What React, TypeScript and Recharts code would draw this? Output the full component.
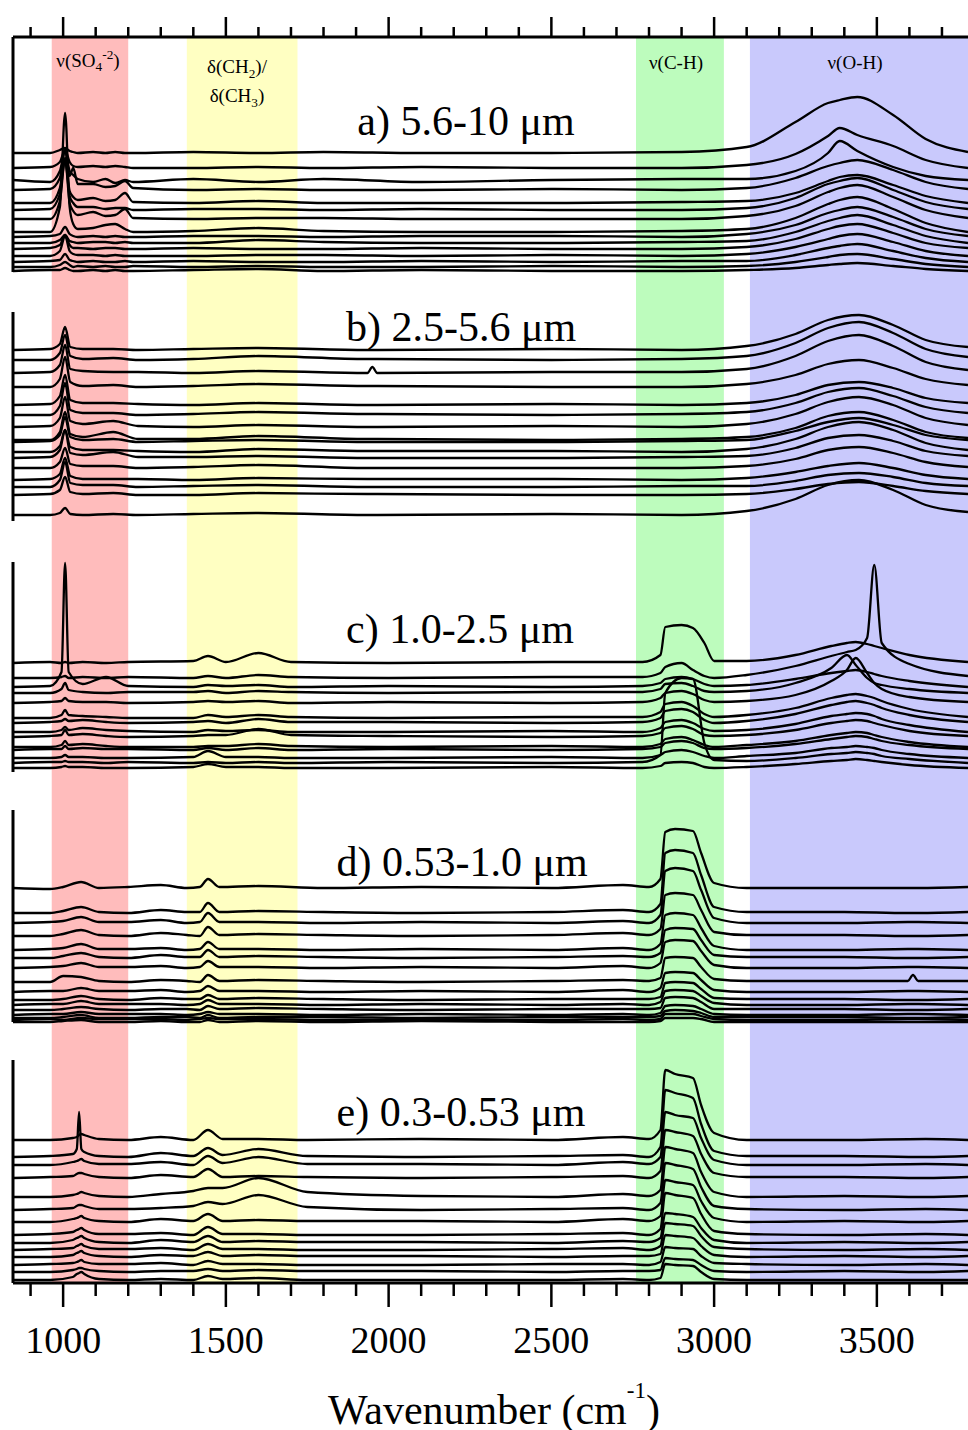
import React from 'react';
import { ComposedChart, Line, XAxis, YAxis, ReferenceArea, ReferenceLine } from 'recharts';

// wavenumber ticks (cm-1), labels on the 500s
const TICKS = [900, 1000, 1100, 1200, 1300, 1400, 1500, 1600, 1700, 1800, 1900, 2000, 2100, 2200, 2300, 2400, 2500, 2600, 2700, 2800, 2900, 3000, 3100, 3200, 3300, 3400, 3500, 3600, 3700];

// shaded assignment bands
const BAND_X1 = [965, 1380, 2760, 3110];
const BAND_X2 = [1200, 1720, 3030, 3780];

// ---- a) 5.6-10 um ----
const A_WN = [846, 960, 990, 1006, 1020, 1031, 1045, 1092, 1130, 1160, 1190, 1215, 1400, 1600, 1800, 2100, 2500, 2900, 3100, 3250, 3350, 3386, 3440, 3550, 3650, 3780];
const A_OFFSET = [1130, 1115, 1102, 1093, 1080, 1073, 1064, 1051, 1046, 1040, 1034, 1027, 1021, 1016, 1012];
const A_LINES = [
  [0, 0, 3, 5, 2, 1, 0, 1, 0, 1, 0, 0, 1, 0, 1, 0, 0, 1, 6, 31, 50, 53, 56, 38, 14, 1],
  [0, 1, 6, 18, 6, 2, 1, 2, 1, 2, 1, 0, 0, 1, 0, 1, 0, 0, 3, 14, 32, 40, 33, 22, 8, 0],
  [1, -1, 10, 30, 10, 6, 2, -1, 2, -2, 1, -1, 2, -1, 2, -1, 1, 2, 2, 10, 28, 40, 30, 14, 5, 1],
  [0, 1, 12, 40, 14, 22, 6, 6, 3, 4, 9, 2, 0, 1, 0, 0, 1, 0, 2, 12, 24, 27, 30, 20, 8, 1],
  [0, 0, 15, 45, 12, 6, 3, 5, 2, 3, 10, 1, 0, 2, 0, 0, 0, 1, 2, 10, 22, 26, 28, 18, 7, 0],
  [0, 1, 16, 50, 14, 7, 3, 3, 1, 2, 2, 0, 1, 1, 0, 1, 0, 0, 2, 12, 26, 29, 32, 20, 8, 1],
  [0, 0, 18, 60, 16, 8, 4, 7, 3, 4, 10, 1, 0, 1, 1, 0, 0, 0, 3, 13, 27, 31, 34, 22, 9, 1],
  [0, 0, 25, 119, 25, 8, 3, 4, 7, 8, 3, 0, 1, 4, 1, 0, 0, 1, 3, 14, 28, 32, 35, 23, 9, 0],
  [0, 1, 3, 10, 3, 1, 0, 1, 0, 1, 0, 0, 1, 1, 0, 1, 1, 0, 3, 12, 24, 27, 30, 20, 8, 1],
  [0, 0, 3, 8, 2, 1, 0, 1, 1, 0, 1, 0, 0, 3, 1, 0, 0, 1, 2, 11, 22, 25, 28, 18, 7, 0],
  [0, 1, 4, 14, 4, 1, 1, 0, 1, 1, 0, 0, 1, 0, 0, 1, 0, 0, 2, 10, 20, 23, 25, 16, 6, 1],
  [0, 0, 5, 20, 5, 2, 1, 1, 0, 1, 0, 0, 0, 1, 1, 0, 1, 0, 2, 9, 17, 20, 22, 14, 5, 0],
  [0, 1, 2, 8, 2, 1, 0, 1, 0, 0, 1, 0, 1, 0, 0, 1, 0, 1, 1, 7, 14, 16, 18, 11, 4, 0],
  [0, 0, 2, 5, 2, 0, 1, 0, 1, 0, 0, 1, 0, 1, 0, 0, 1, 0, 1, 5, 10, 12, 13, 8, 3, 0],
  [0, 1, 1, 3, 1, 0, 0, 1, 0, 1, 0, 0, 1, 2, 0, 1, 0, 0, 1, 3, 6, 7, 8, 5, 2, 0],
];

// ---- b) 2.5-5.6 um ----
const B_WN = [846, 960, 990, 1006, 1022, 1060, 1154, 1230, 1400, 1600, 1935, 1950, 1965, 2500, 2900, 3100, 3250, 3350, 3445, 3550, 3650, 3780];
const B_OFFSET = [933, 923, 910, 896, 878, 868, 856, 843, 841, 831, 825, 815, 803, 796, 788, 768];
const B_LINES = [
  [0, 1, 6, 23, 3, 1, 1, 0, 1, 2, 0, 0, 0, 1, 0, 4, 16, 30, 35, 25, 10, 3],
  [0, 0, 7, 25, 4, 1, 2, 0, 1, 4, 1, 1, 1, 0, 1, 4, 17, 32, 38, 27, 11, 3],
  [0, 1, 8, 28, 4, 2, 1, 1, 0, 2, 0, 6, 0, 1, 1, 4, 17, 32, 38, 27, 11, 3],
  [0, 0, 8, 30, 5, 1, 2, 0, 1, 3, 1, 1, 1, 0, 0, 3, 12, 23, 27, 19, 8, 2],
  [0, 1, 9, 30, 5, 2, 2, 1, 0, 2, 0, 0, 0, 1, 0, 2, 10, 20, 23, 17, 7, 2],
  [0, 0, 9, 32, 5, 2, 2, 0, 1, 3, 1, 1, 1, 0, 1, 3, 12, 23, 27, 19, 8, 2],
  [0, 1, 9, 30, 6, 3, 6, 1, 0, 2, 0, 0, 0, 1, 0, 3, 13, 25, 30, 22, 9, 2],
  [0, 0, 8, 28, 6, 3, 8, 1, 1, 4, 1, 1, 1, 0, 1, 3, 12, 24, 28, 20, 8, 2],
  [0, 1, 7, 25, 5, 2, 3, 0, 1, 2, 0, 0, 0, 0, 1, 2, 11, 20, 24, 17, 7, 2],
  [0, 0, 6, 22, 5, 2, 2, 1, 0, 3, 1, 1, 1, 1, 0, 3, 13, 25, 30, 22, 9, 2],
  [0, 1, 8, 28, 5, 3, 6, 1, 1, 2, 0, 0, 0, 0, 1, 2, 10, 20, 23, 17, 7, 2],
  [0, 0, 6, 20, 4, 2, 2, 0, 1, 3, 0, 0, 0, 0, 0, 2, 9, 18, 21, 15, 6, 1],
  [0, 1, 6, 22, 4, 1, 1, 1, 0, 2, 1, 1, 1, 1, 0, 2, 8, 14, 17, 12, 5, 1],
  [0, 0, 7, 25, 4, 2, 2, 0, 1, 2, 0, 0, 0, 0, 1, 1, 6, 12, 14, 10, 4, 1],
  [0, 1, 5, 18, 3, 1, 2, 0, 0, 2, 1, 1, 1, 0, 0, 1, 6, 11, 13, 9, 4, 1],
  [0, 0, 2, 7, 1, 0, 1, 0, 1, 2, 0, 0, 0, 1, 0, 4, 16, 30, 35, 25, 10, 3],
];

// ---- c) 1.0-2.5 um ----
const C_WN = [846, 960, 995, 1006, 1017, 1060, 1132, 1200, 1400, 1445, 1500, 1600, 1700, 2000, 2500, 2780, 2835, 2850, 2900, 2935, 2970, 3000, 3100, 3250, 3360, 3408, 3435, 3470, 3492, 3515, 3600, 3780];
const C_OFFSET = [620, 605, 596, 590, 580, 565, 560, 551, 546, 536, 533, 525, 520, 515];
const C_LINES = [
  [0, 1, 0, 1, 0, 1, 0, 1, 2, 7, 1, 10, 1, 0, 1, 1, 8, 36, 38, 35, 20, 2, 2, 8, 17, 20, 21, 19, 17, 15, 8, 1],
  [0, 0, 1, 2, 0, 1, 0, 1, 0, 2, 0, 3, 1, 0, 1, 1, 5, 11, 15, 8, 2, 0, 3, 12, 22, 26, 28, 40, 113, 35, 14, 2],
  [0, 1, 15, 124, 15, 3, 10, 1, 0, 2, 1, 2, 0, 1, 0, 1, 4, 8, 10, 8, 3, 1, 2, 8, 14, 16, 17, 15, 13, 11, 6, 0],
  [0, 0, 4, 10, 3, 1, 0, 1, 1, 2, 0, 2, 1, 0, 1, 1, 4, 9, 10, 7, 2, 1, 2, 10, 25, 38, 28, 15, 10, 8, 4, 0],
  [0, 1, 2, 5, 2, 1, 1, 0, 1, 2, 1, 2, 0, 1, 0, 1, 5, 10, 12, 9, 3, 1, 2, 8, 22, 33, 45, 30, 20, 14, 6, 1],
  [0, 0, 3, 8, 3, 2, 1, 0, 0, 3, 1, 3, 1, 0, 1, 1, 6, 14, 16, 12, 4, 1, 3, 10, 20, 23, 24, 22, 20, 17, 9, 1],
  [0, 1, 2, 4, 2, 3, 1, 0, 1, 2, 0, 4, 1, 1, 0, 1, 5, 12, 14, 11, 3, 0, 2, 9, 18, 21, 22, 20, 18, 15, 8, 1],
  [0, 0, 2, 5, 2, 4, 2, 1, 0, 2, 1, 2, 0, 0, 1, 0, 4, 10, 12, 9, 3, 1, 2, 8, 16, 18, 19, 18, 16, 13, 7, 0],
  [0, 1, 2, 7, 2, 3, 1, 0, 1, 2, 2, 8, 2, 1, 0, 1, 4, 9, 11, 8, 2, 1, 2, 7, 14, 16, 17, 16, 14, 12, 6, 1],
  [0, 0, 2, 6, 2, 3, 1, 0, 0, 1, 1, 3, 1, 0, 1, 0, 3, 8, 10, 7, 2, 0, 2, 6, 12, 14, 15, 14, 12, 10, 5, 0],
  [0, 1, 1, 4, 1, 2, 1, 1, 0, 2, 0, 2, 0, 1, 0, 1, 3, 7, 9, 7, 2, 1, 2, 6, 11, 13, 14, 13, 11, 9, 5, 1],
  [0, 0, 1, 3, 1, 1, 0, 0, 1, 7, 1, 1, 0, 0, 1, 0, 3, 6, 8, 6, 2, 0, 2, 5, 10, 11, 12, 11, 10, 8, 4, 0],
  [0, 1, 1, 2, 1, 1, 0, 1, 0, 1, 0, 1, 0, 1, 0, 1, 8, 70, 85, 84, 20, 3, 2, 5, 9, 10, 11, 10, 9, 7, 4, 0],
  [0, 0, 1, 2, 1, 1, 0, 0, 1, 4, 1, 1, 0, 0, 1, 0, 2, 5, 6, 5, 1, 0, 1, 4, 7, 8, 9, 8, 7, 6, 3, 0],
];

// ---- d) 0.53-1.0 um ----
const D_WN = [846, 960, 1000, 1055, 1110, 1200, 1300, 1380, 1420, 1445, 1480, 1600, 1800, 2100, 2500, 2720, 2800, 2835, 2850, 2880, 2935, 2960, 3000, 3100, 3400, 3595, 3611, 3627, 3780];
const D_OFFSET = [395, 370, 360, 347, 333, 325, 315, 301, 291, 283, 278, 273, 268, 265, 263, 261];
const D_LINES = [
  [0, -1, 1, 6, 0, 1, 3, 0, 1, 9, 1, 2, 0, 1, 0, 3, 1, 9, 56, 59, 57, 35, 5, 0, 0, 0, 0, 0, 1],
  [0, 0, 2, 6, 1, 0, 3, 1, 1, 10, 1, 2, 1, 0, 1, 3, 1, 9, 60, 63, 60, 38, 6, 1, 1, 0, 0, 0, 1],
  [0, 1, 2, 6, 1, 1, 3, 0, 1, 10, 1, 1, 0, 1, 0, 2, 0, 8, 52, 55, 52, 33, 5, 0, 0, 1, 1, 1, 0],
  [0, 0, 2, 6, 1, 0, 3, 1, 0, 9, 1, 2, 1, 0, 1, 3, 1, 7, 41, 43, 41, 26, 4, 1, 1, 0, 0, 0, 1],
  [0, 1, 2, 6, 1, 1, 2, 0, 1, 8, 1, 1, 0, 1, 0, 2, 0, 6, 35, 37, 35, 22, 4, 0, 0, 1, 1, 1, 0],
  [0, 0, 2, 5, 1, 0, 3, 1, 1, 8, 1, 2, 1, 0, 1, 2, 1, 5, 28, 30, 29, 18, 3, 1, 1, 0, 0, 0, 1],
  [0, 1, 2, 5, 1, 1, 2, 0, 1, 7, 1, 1, 0, 1, 0, 2, 0, 5, 26, 28, 27, 17, 3, 0, 0, 1, 1, 1, 0],
  [0, 0, 6, 5, 1, 0, 2, 1, 0, 7, 1, 2, 1, 0, 1, 2, 1, 4, 24, 25, 24, 15, 3, 1, 1, 1, 7, 1, 1],
  [0, 1, 1, 4, 1, 1, 2, 0, 1, 6, 1, 1, 0, 1, 0, 2, 0, 4, 19, 20, 19, 12, 2, 0, 0, 1, 1, 1, 0],
  [0, 0, 1, 4, 1, 0, 2, 1, 1, 5, 1, 2, 1, 0, 1, 1, 1, 3, 17, 18, 17, 11, 2, 1, 1, 0, 0, 0, 1],
  [0, 1, 1, 4, 1, 1, 1, 0, 1, 5, 1, 1, 0, 1, 0, 1, 0, 3, 14, 15, 14, 9, 2, 0, 0, 1, 1, 1, 0],
  [0, 0, 1, 3, 1, 0, 1, 1, 0, 4, 1, 2, 1, 0, 1, 1, 1, 2, 12, 13, 12, 8, 1, 1, 1, 0, 0, 0, 1],
  [0, 1, 1, 3, 1, 1, 1, 0, 1, 3, 1, 1, 0, 1, 0, 1, 0, 2, 9, 10, 9, 6, 1, 0, 0, 1, 1, 1, 0],
  [0, 0, 1, 3, 0, 0, 1, 1, 0, 3, 0, 1, 1, 0, 1, 1, 1, 2, 7, 8, 7, 5, 1, 1, 1, 0, 0, 0, 1],
  [0, 1, 0, 2, 1, 1, 1, 0, 1, 2, 1, 1, 0, 0, 0, 1, 0, 1, 6, 6, 6, 4, 1, 0, 0, 1, 1, 1, 0],
  [0, 0, 1, 2, 0, 0, 1, 0, 0, 2, 0, 1, 0, 1, 0, 0, 0, 1, 4, 4, 4, 3, 0, 0, 0, 0, 0, 0, 0],
];

// ---- e) 0.3-0.53 um ----
const E_WN = [846, 960, 1030, 1042, 1049, 1056, 1065, 1110, 1200, 1300, 1400, 1445, 1490, 1600, 1750, 2100, 2500, 2720, 2800, 2835, 2850, 2880, 2935, 2960, 3000, 3100, 3400, 3650, 3780];
const E_OFFSET = [143, 126, 118, 105, 86, 73, 61, 48, 40, 33, 26, 18, 11, 3];
const E_LINES = [
  [0, 0, 2, 3, 5, 6, 5, 1, 0, 3, 0, 10, 1, 1, 0, 1, 0, 3, 1, 10, 70, 66, 62, 35, 7, 0, 0, 1, 0],
  [0, 1, 3, 8, 45, 8, 5, 1, 0, 4, 1, 9, 2, 8, 1, 0, 1, 2, 0, 10, 67, 64, 59, 33, 6, 1, 1, 0, 1],
  [0, 0, 3, 4, 5, 6, 4, 1, 1, 3, 0, 9, 2, 8, 1, 1, 0, 3, 1, 8, 53, 50, 47, 27, 5, 0, 0, 1, 0],
  [0, 1, 2, 4, 5, 5, 4, 1, 0, 3, 1, 9, 1, 2, 1, 0, 1, 2, 0, 7, 48, 46, 42, 24, 5, 1, 1, 0, 1],
  [0, 0, 2, 3, 4, 5, 4, 1, 0, 3, 6, 9, 9, 19, 5, 1, 0, 3, 1, 7, 50, 48, 44, 25, 5, 0, 1, 0, 1],
  [0, 1, 2, 4, 5, 5, 4, 1, 1, 2, 4, 8, 6, 15, 3, 0, 1, 2, 0, 7, 47, 45, 41, 23, 4, 1, 0, 1, 0],
  [0, 0, 3, 4, 5, 6, 4, 1, 0, 3, 1, 8, 1, 2, 1, 1, 0, 3, 1, 6, 42, 40, 37, 21, 4, 0, 1, 0, 1],
  [0, 1, 3, 5, 6, 7, 5, 1, 1, 2, 0, 8, 1, 1, 0, 0, 1, 2, 0, 6, 42, 40, 37, 21, 4, 1, 0, 1, 0],
  [0, 0, 3, 5, 6, 7, 5, 1, 0, 3, 1, 7, 1, 2, 1, 1, 0, 2, 1, 5, 30, 29, 26, 15, 3, 0, 1, 0, 1],
  [0, 1, 2, 4, 5, 6, 4, 1, 1, 2, 0, 6, 1, 1, 0, 0, 1, 2, 0, 4, 27, 26, 24, 14, 3, 1, 0, 1, 0],
  [0, 0, 2, 4, 5, 6, 4, 1, 0, 2, 1, 5, 1, 2, 1, 1, 0, 1, 1, 3, 22, 21, 19, 11, 2, 0, 1, 0, 1],
  [0, 1, 2, 3, 4, 5, 3, 1, 1, 2, 0, 4, 1, 1, 0, 0, 1, 1, 0, 3, 18, 17, 16, 9, 2, 1, 0, 1, 0],
  [0, 0, 2, 3, 4, 4, 3, 1, 0, 1, 1, 3, 1, 2, 1, 1, 0, 1, 1, 2, 14, 13, 12, 7, 1, 0, 1, 0, 1],
  [0, 0, 3, 6, 7, 8, 6, 1, 0, 1, 0, 4, 1, 2, 0, 0, 0, 1, 0, 2, 16, 15, 14, 8, 1, 0, 0, 0, 0],
];

const PANELS = [
  { wn: A_WN, offset: A_OFFSET, lines: A_LINES },
  { wn: B_WN, offset: B_OFFSET, lines: B_LINES },
  { wn: C_WN, offset: C_OFFSET, lines: C_LINES },
  { wn: D_WN, offset: D_OFFSET, lines: D_LINES },
  { wn: E_WN, offset: E_OFFSET, lines: E_LINES },
];

const X_DOMAIN: [number, number] = [846, 3780];
const BAND_FILLS = ['#ffbcbc', '#ffffc2', '#bdfcbd', '#c9c9fc'];
// vertical extent (in y units) of each panel's left frame line
const FRAMES = [[1011, 1246], [762, 971], [511, 721], [261, 473], [0, 223]];

const SERIF = '"Liberation Serif", "Times New Roman", serif';

const BottomTick = (props: any) => {
  const { x, y, payload } = props;
  const major = payload.value % 500 === 0;
  return (
    <g>
      <line x1={x} x2={x} y1={y} y2={y + (major ? 24 : 13)} stroke="#000" strokeWidth={2.5} />
      {major && (
        <text x={x} y={y + 70} textAnchor="middle" fontFamily={SERIF} fontSize={38} fill="#000">
          {payload.value}
        </text>
      )}
    </g>
  );
};

const TopTick = (props: any) => {
  const { x, y, payload } = props;
  const major = payload.value % 500 === 0;
  return <line x1={x} x2={x} y1={y} y2={y - (major ? 20 : 10)} stroke="#000" strokeWidth={2.5} />;
};

const txt = (left: number, top: number, size: number): React.CSSProperties => ({
  position: 'absolute',
  left,
  top,
  transform: 'translate(-50%, -50%)',
  fontFamily: SERIF,
  fontSize: size,
  lineHeight: 1,
  whiteSpace: 'nowrap',
  color: '#000',
});

const subSup: React.CSSProperties = { fontSize: '0.7em' };

export default function App() {
  return (
    <div style={{ position: 'absolute', left: 0, top: 0, width: 968, height: 1430, background: '#fff' }}>
      <ComposedChart width={968} height={1430} margin={{ top: 7, right: 0, bottom: 87, left: 13 }}>
        <XAxis
          type="number"
          dataKey="x"
          domain={X_DOMAIN}
          allowDataOverflow
          ticks={TICKS}
          interval={0}
          height={60}
          tickLine={false}
          tickSize={0}
          tickMargin={0}
          tick={(p: any) => <BottomTick {...p} />}
          axisLine={{ stroke: '#000', strokeWidth: 3 }}
        />
        <XAxis
          xAxisId="top"
          orientation="top"
          type="number"
          dataKey="x"
          domain={X_DOMAIN}
          allowDataOverflow
          ticks={TICKS}
          interval={0}
          height={30}
          tickLine={false}
          tickSize={0}
          tickMargin={0}
          tick={(p: any) => <TopTick {...p} />}
          axisLine={{ stroke: '#000', strokeWidth: 3 }}
        />
        <YAxis hide type="number" domain={[0, 1246]} allowDataOverflow />
        {BAND_X1.map((x1, i) => (
          <ReferenceArea key={'band' + i} x1={x1} x2={BAND_X2[i]} y1={0} y2={1246} fill={BAND_FILLS[i]} fillOpacity={1} stroke="none" />
        ))}
        {FRAMES.map(([y1, y2], i) => (
          <ReferenceLine key={'frame' + i} segment={[{ x: X_DOMAIN[0], y: y1 }, { x: X_DOMAIN[0], y: y2 }]} stroke="#000" strokeWidth={3} />
        ))}
        {PANELS.flatMap((p, pi) =>
          p.lines.map((vals, li) => (
            <Line
              key={`s${pi}-${li}`}
              data={p.wn.map((x, j) => ({ x, y: p.offset[li] + vals[j] }))}
              dataKey="y"
              type="monotoneX"
              stroke="#000"
              strokeWidth={2.3}
              dot={false}
              activeDot={false}
              isAnimationActive={false}
            />
          ))
        )}
      </ComposedChart>

      <div style={txt(88, 61, 19)}>ν(SO<sub style={subSup}>4</sub><sup style={subSup}>-2</sup>)</div>
      <div style={txt(237, 69, 19)}>δ(CH<sub style={subSup}>2</sub>)/</div>
      <div style={txt(237, 98, 19)}>δ(CH<sub style={subSup}>3</sub>)</div>
      <div style={txt(676, 62, 19)}>ν(C-H)</div>
      <div style={txt(855, 62, 19)}>ν(O-H)</div>

      <div style={txt(466, 121, 42)}>a) 5.6-10 μm</div>
      <div style={txt(461, 327, 42)}>b) 2.5-5.6 μm</div>
      <div style={txt(460, 629, 42)}>c) 1.0-2.5 μm</div>
      <div style={txt(462, 862, 42)}>d) 0.53-1.0 μm</div>
      <div style={txt(461, 1112, 42)}>e) 0.3-0.53 μm</div>

      <div style={txt(494, 1405, 42)}>
        Wavenumber (cm<sup style={{ fontSize: '0.55em', verticalAlign: '1.1em' }}>-1</sup>)
      </div>
    </div>
  );
}
